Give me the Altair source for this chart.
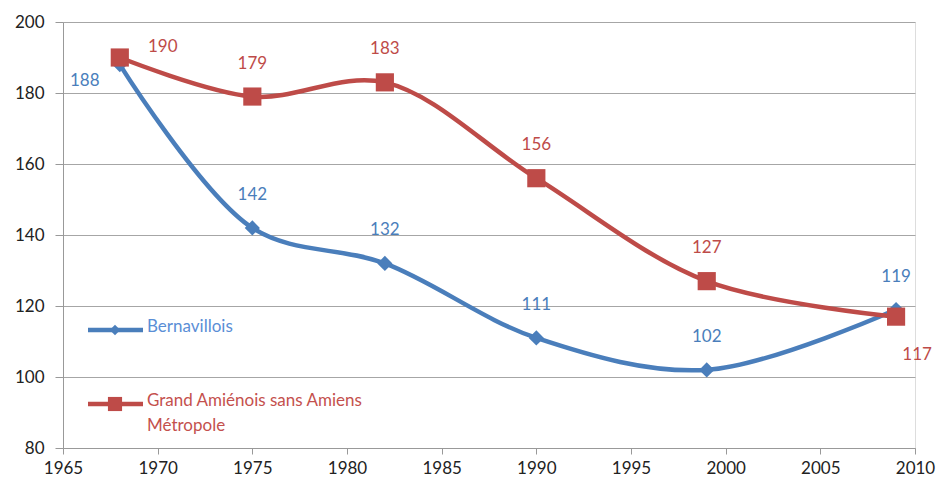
import altair as alt
import pandas as pd

years = [1968, 1975, 1982, 1990, 1999, 2009]
series_names = ["Bernavillois", "Grand Amiénois sans Amiens Métropole"]
bernavillois = [188, 142, 132, 111, 102, 119]
grand_amienois = [190, 179, 183, 156, 127, 117]
legend_labels = ["Bernavillois", "Grand Amiénois sans Amiens\nMétropole"]
x_ticks = list(range(1965, 2011, 5))
y_ticks = list(range(80, 201, 20))

line_colors = ["#4A7EBB", "#BE4B48"]
text_colors = ["#5A8ED6", "#C4504D"]
FONT = "Lato"

rows = []
for name, vals in zip(series_names, [bernavillois, grand_amienois]):
    for yr, v in zip(years, vals):
        rows.append({"year": yr, "value": v, "series": name})
df = pd.DataFrame(rows)

x_enc = alt.X("year:Q", scale=alt.Scale(domain=[1965, 2010], nice=False),
              axis=alt.Axis(values=x_ticks, format="d", title=None, grid=False,
                            tickSize=6, tickColor="#999999", domainColor="#999999",
                            labelFontSize=17, labelFont=FONT, labelColor="#222222",
                            labelPadding=6, labelFlush=False))
y_enc = alt.Y("value:Q", scale=alt.Scale(domain=[80, 200], nice=False),
              axis=alt.Axis(values=y_ticks, title=None, grid=True, gridColor="#A6A6A6",
                            tickSize=8, tickColor="#999999", domainColor="#999999",
                            labelFontSize=17, labelFont=FONT, labelColor="#222222",
                            labelPadding=11))
color = alt.Color("series:N", scale=alt.Scale(domain=series_names, range=line_colors), legend=None)
tcolor = alt.Color("series:N", scale=alt.Scale(domain=series_names, range=text_colors), legend=None)

base = alt.Chart(df)

lines = base.mark_line(interpolate="catmull-rom", strokeWidth=4.5).encode(
    x=x_enc, y=y_enc, color=color, detail="series:N")

points = base.mark_point(filled=True, opacity=1).encode(
    x="year:Q", y="value:Q", color=color,
    shape=alt.Shape("series:N", scale=alt.Scale(domain=series_names, range=["diamond", "square"]), legend=None),
    size=alt.Size("series:N", scale=alt.Scale(domain=series_names, range=[230, 330]), legend=None),
)

exc_b68 = (df["series"] == series_names[0]) & (df["year"] == years[0])
exc_g68 = (df["series"] == series_names[1]) & (df["year"] == years[0])
exc_g09 = (df["series"] == series_names[1]) & (df["year"] == years[-1])
df_default = df[~(exc_b68 | exc_g68 | exc_g09)]

def label_layer(data, dx, dy):
    return alt.Chart(data).mark_text(font=FONT, fontSize=17, dx=dx, dy=dy, baseline="middle").encode(
        x="year:Q", y="value:Q", text="value:Q", color=tcolor)

labels = (label_layer(df_default, 0, -33)
          + label_layer(df[exc_b68], -35, 16)
          + label_layer(df[exc_g68], 43, -11)
          + label_layer(df[exc_g09], 21, 38))

# legend inside plot area
leg_layers = []
leg_y = [308, 382]
leg_shapes = ["diamond", "square"]
leg_sizes = [110, 200]
for i in range(2):
    d = pd.DataFrame({"series": [series_names[i]], "label": [legend_labels[i]]})
    c = alt.Chart(d)
    leg_layers.append(c.mark_rule(strokeWidth=4.5, color=line_colors[i]).encode(
        x=alt.value(25), x2=alt.value(80), y=alt.value(leg_y[i])))
    leg_layers.append(c.mark_point(filled=True, opacity=1, shape=leg_shapes[i], size=leg_sizes[i],
                                   color=line_colors[i]).encode(
        x=alt.value(52), y=alt.value(leg_y[i])))
    leg_layers.append(c.mark_text(font=FONT, fontSize=17, align="left", baseline="top",
                                  lineBreak="\n", lineHeight=25, color=text_colors[i]).encode(
        x=alt.value(84), y=alt.value(leg_y[i] - 11), text="label:N"))

chart = alt.layer(lines, points, labels, *leg_layers).properties(
    width=852, height=426,
    autosize=alt.AutoSizeParams(type="none"),
    padding={"left": 55, "top": 14, "right": 21, "bottom": 30},
).configure_view(stroke=None).configure(background="white")

chart.save("out.html", embed_options={"renderer": "svg", "actions": False})
